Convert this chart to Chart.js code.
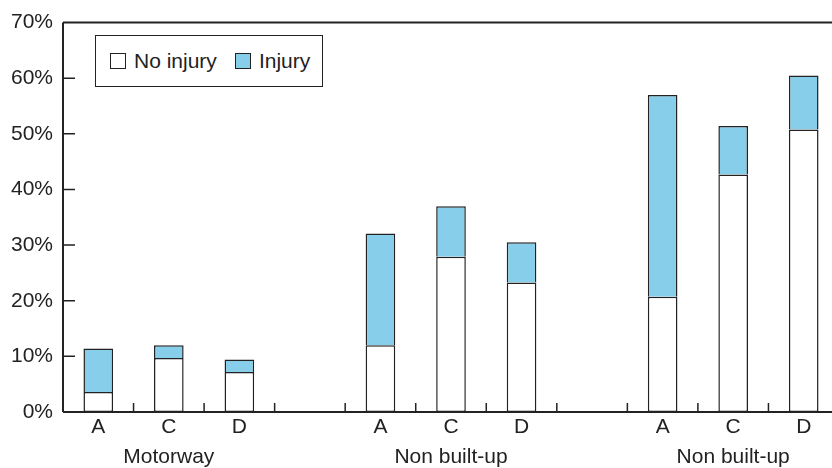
<!DOCTYPE html>
<html>
<head>
<meta charset="utf-8">
<script src="https://cdn.jsdelivr.net/npm/chart.js@4/dist/chart.umd.min.js"></script>
<style>
  html, body { margin: 0; padding: 0; background: #fff; overflow: hidden; }
  #wrap { position: relative; width: 839px; height: 468px; }
  #legend {
    position: absolute; left: 95px; top: 35px; width: 226px; height: 50px;
    border: 1.5px solid #222; background: #fff;
    font-family: "Liberation Sans", Arial, sans-serif; font-size: 21px; color: #222;
    display: flex; align-items: center; box-sizing: content-box;
  }
  #legend .sw { display: inline-block; width: 14px; height: 14px; border: 1.5px solid #222; margin-right: 8px; vertical-align: -1px; }
  #legend span.item { margin-left: 14px; white-space: nowrap; }
  #legend span.item + span.item { margin-left: 18px; }
</style>
</head>
<body>
<div id="wrap">
  <canvas id="chart" width="839" height="468"></canvas>
  <div id="legend">
    <span class="item"><span class="sw" style="background:#fff"></span>No injury</span>
    <span class="item"><span class="sw" style="background:#87ceea"></span>Injury</span>
  </div>
</div>
<script>
  // categorias (slots vazios separam os grupos)
  var categorias = ['A', 'C', 'D', '', 'A', 'C', 'D', '', 'A', 'C', 'D'];
  var grupos = ['', 'Motorway', '', '', '', 'Non built-up', '', '', '', 'Non built-up', ''];
  var semLesao = [3.6, 9.7, 7.2, null, 12.0, 27.9, 23.3, null, 20.7, 42.7, 50.8];
  var comLesao = [7.8, 2.3, 2.25, null, 20.1, 9.1, 7.2, null, 36.3, 8.7, 9.7];
  var yTicks = [0, 10, 20, 30, 40, 50, 60, 70];

  var corTexto = '#222';
  var fonte = "'Liberation Sans', Arial, sans-serif";

  // monta labels de duas linhas (categoria + grupo)
  var labels = categorias.map(function(c, i){ return [c, grupos[i]]; });

  // desenha marcas internas nos eixos e a moldura
  var moldura = {
    id: 'moldura',
    afterDraw: function(chart){
      var ctx = chart.ctx, a = chart.chartArea;
      var x = chart.scales.x, y = chart.scales.y;
      ctx.save();
      ctx.strokeStyle = corTexto;
      ctx.lineWidth = 1.5;
      ctx.beginPath();
      for (var i = 1; i < categorias.length; i++) {
        var px = (x.getPixelForValue(i - 1) + x.getPixelForValue(i)) / 2;
        ctx.moveTo(px, a.bottom);
        ctx.lineTo(px, a.bottom - 9);
      }
      yTicks.forEach(function(v){
        if (v === 0 || v === 70) return;
        var py = y.getPixelForValue(v);
        ctx.moveTo(a.left, py);
        ctx.lineTo(a.left + 12, py);
      });
      ctx.stroke();
      ctx.lineWidth = 2;
      ctx.beginPath();
      ctx.moveTo(a.left, a.top);
      ctx.lineTo(a.right, a.top);
      ctx.moveTo(a.left, a.top);
      ctx.lineTo(a.left, a.bottom);
      ctx.moveTo(a.left, a.bottom);
      ctx.lineTo(a.right, a.bottom);
      ctx.stroke();
      ctx.restore();
    }
  };

  new Chart(document.getElementById('chart'), {
    type: 'bar',
    data: {
      labels: labels,
      datasets: [{
        label: 'No injury',
        data: semLesao,
        backgroundColor: '#ffffff',
        borderColor: corTexto,
        borderWidth: 1.5,
        borderSkipped: false
      }, {
        label: 'Injury',
        data: comLesao,
        backgroundColor: '#87ceea',
        borderColor: corTexto,
        borderWidth: 1.5,
        borderSkipped: 'start'
      }]
    },
    options: {
      responsive: false,
      animation: false,
      layout: { padding: { top: 22, right: 0, bottom: 0, left: 0 } },
      plugins: { legend: { display: false }, tooltip: { enabled: false } },
      datasets: { bar: { categoryPercentage: 1, barPercentage: 0.42 } },
      scales: {
        x: {
          stacked: true,
          grid: { display: false, drawTicks: false },
          border: { display: false },
          afterFit: function(s){ s.height = 56; },
          ticks: {
            color: corTexto,
            padding: 0,
            maxRotation: 0,
            autoSkip: false,
            font: { family: fonte, size: 21, lineHeight: 1.45 }
          }
        },
        y: {
          stacked: true,
          min: 0,
          max: 70,
          grid: { display: false, drawTicks: false },
          border: { display: false },
          afterFit: function(s){ s.width = 63; },
          ticks: {
            stepSize: 10,
            color: corTexto,
            padding: 10,
            font: { family: fonte, size: 21 },
            callback: function(v){ return v + '%'; }
          }
        }
      }
    },
    plugins: [moldura]
  });
</script>
</body>
</html>
